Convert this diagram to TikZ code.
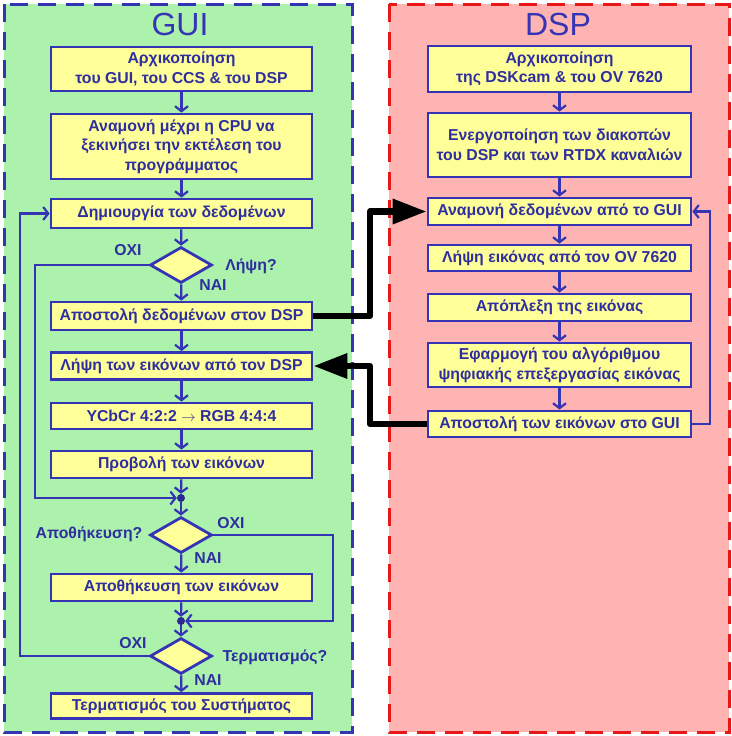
\documentclass[tikz,border=0pt]{standalone}
\usepackage{fontspec}
\setmainfont{Liberation Sans}
\usetikzlibrary{shapes.geometric,arrows.meta}
\definecolor{guigreen}{HTML}{ACF2AC}
\definecolor{dsppink}{HTML}{FFB4B4}
\definecolor{boxyellow}{HTML}{FFFF99}
\definecolor{bblue}{HTML}{3434B4}
\definecolor{tblue}{HTML}{2E2EA0}
\definecolor{dred}{HTML}{E81818}
\tikzset{
  x=1pt,y=-1pt,
  stepbox/.style={draw=bblue,line width=2.8pt,fill=boxyellow,text=tblue,
    font=\bfseries\fontsize{15.8}{19.5}\selectfont,align=center,inner sep=0pt},
  decision/.style={diamond,draw=bblue,line width=2.8pt,fill=boxyellow,
    inner sep=0pt,minimum width=62pt,minimum height=36pt},
  junc/.style={circle,fill=bblue!80!black,inner sep=0pt,minimum size=8pt},
  flow/.style={draw=bblue,line width=2.2pt,-{Straight Barb[length=5pt,width=13pt]}},
  lbl/.style={text=tblue,font=\bfseries\fontsize{15.8}{19.5}\selectfont,inner sep=0pt},
  bigarrow/.style={draw=black,line width=6.5pt,line join=round,
    -{Triangle[length=34pt,width=24pt]}},
  title/.style={text=bblue,font=\fontsize{32}{36}\selectfont,inner sep=0pt}
}
\begin{document}
\begin{tikzpicture}
\useasboundingbox (0,0) rectangle (731,736);
% panels
\draw[fill=guigreen,draw=bblue,line width=3pt,dash pattern=on 18pt off 10pt] (4,4) rectangle (352,732);
\draw[fill=dsppink,draw=dred,line width=3pt,dash pattern=on 18pt off 10pt] (389,4) rectangle (729,732);
\node[title] (tg) at (180,24) {GUI};
\node[title] (td) at (558,24) {DSP};
% GUI boxes
\node[stepbox,minimum width=261pt,minimum height=44pt] (g1) at (181.5,69) {Αρχικοποίηση\\του GUI, του CCS \& του DSP};
\node[stepbox,minimum width=261pt,minimum height=65pt] (g2) at (181.5,146.5) {Αναμονή μέχρι η CPU να\\ξεκινήσει την εκτέλεση του\\προγράμματος};
\node[stepbox,minimum width=261pt,minimum height=29pt] (g3) at (181.5,213.5) {Δημιουργία των δεδομένων};
\node[decision] (q1) at (181,265) {};
\node[stepbox,minimum width=261pt,minimum height=28pt] (g4) at (181.5,316) {Αποστολή δεδομένων στον DSP};
\node[stepbox,minimum width=261pt,minimum height=27pt] (g5) at (181.5,366) {Λήψη των εικόνων από τον DSP};
\node[stepbox,minimum width=261pt,minimum height=26pt] (g6) at (181.5,416) {YCbCr 4:2:2 $\rightarrow$ RGB 4:4:4};
\node[stepbox,minimum width=261pt,minimum height=27pt] (g7) at (181.5,464.5) {Προβολή των εικόνων};
\node[junc] (j1) at (181,498) {};
\node[decision] (q2) at (181,535) {};
\node[stepbox,minimum width=261pt,minimum height=27pt] (g8) at (181.5,587.5) {Αποθήκευση των εικόνων};
\node[junc] (j2) at (181,621) {};
\node[decision] (q3) at (181,656) {};
\node[stepbox,minimum width=261pt,minimum height=25pt] (g9) at (181.5,706) {Τερματισμός του Συστήματος};
% GUI labels
\node[lbl] (l1) at (128,250) {ΟΧΙ};
\node[lbl] (l2) at (251,266) {Λήψη?};
\node[lbl] (l3) at (213,285) {ΝΑΙ};
\node[lbl] (l4) at (89,534) {Αποθήκευση?};
\node[lbl] (l5) at (231,523) {ΟΧΙ};
\node[lbl] (l6) at (208,558) {ΝΑΙ};
\node[lbl] (l7) at (133,643) {ΟΧΙ};
\node[lbl] (l8) at (275,657) {Τερματισμός?};
\node[lbl] (l9) at (208,680) {ΝΑΙ};
% DSP boxes
\node[stepbox,minimum width=263pt,minimum height=46pt] (d1) at (559.5,69) {Αρχικοποίηση\\της DSKcam \& του OV 7620};
\node[stepbox,minimum width=263pt,minimum height=64pt] (d2) at (559.5,145) {Ενεργοποίηση των διακοπών\\του DSP και των RTDX καναλιών};
\node[stepbox,minimum width=263pt,minimum height=27pt] (d3) at (559.5,211.5) {Αναμονή δεδομένων από το GUI};
\node[stepbox,minimum width=263pt,minimum height=26pt] (d4) at (559.5,258) {Λήψη εικόνας από τον OV 7620};
\node[stepbox,minimum width=263pt,minimum height=27pt] (d5) at (559.5,307.5) {Απόπλεξη της εικόνας};
\node[stepbox,minimum width=263pt,minimum height=44pt] (d6) at (559.5,365) {Εφαρμογή του αλγόριθμου\\ψηφιακής επεξεργασίας εικόνας};
\node[stepbox,minimum width=263pt,minimum height=26pt] (d7) at (559.5,424) {Αποστολή των εικόνων στο GUI};
% GUI flow
\path[flow] (g1) -- (g2);
\path[flow] (g2) -- (g3);
\path[flow] (g3) -- (q1);
\path[flow] (q1) -- (g4);
\path[flow] (g4) -- (g5);
\path[flow] (g5) -- (g6);
\path[flow] (g6) -- (g7);
\path[flow] (g7) -- (j1);
\path[flow] (j1) -- (q2);
\path[flow] (q2) -- (g8);
\path[flow] (g8) -- (j2);
\path[flow] (j2) -- (q3);
\path[flow] (q3) -- (g9);
\path[flow] (q1.west) -- (35,265) -- (35,498) -- (j1);
\path[flow] (q2.east) -- (333,535) -- (333,621) -- (j2);
\path[flow] (q3.west) -- (20,656) -- (20,213.5) -- (g3.west);
% DSP flow
\path[flow] (d1) -- (d2);
\path[flow] (d2) -- (d3);
\path[flow] (d3) -- (d4);
\path[flow] (d4) -- (d5);
\path[flow] (d5) -- (d6);
\path[flow] (d6) -- (d7);
\path[flow] (d7.east) -- (710,424) -- (710,211.5) -- (d3.east);
% inter-panel arrows
\path[bigarrow] (g4.east) -- (370,316) -- (370,211.5) -- (d3.west);
\path[bigarrow] (d7.west) -- (370,424) -- (370,366) -- (g5.east);
\end{tikzpicture}
\end{document}
